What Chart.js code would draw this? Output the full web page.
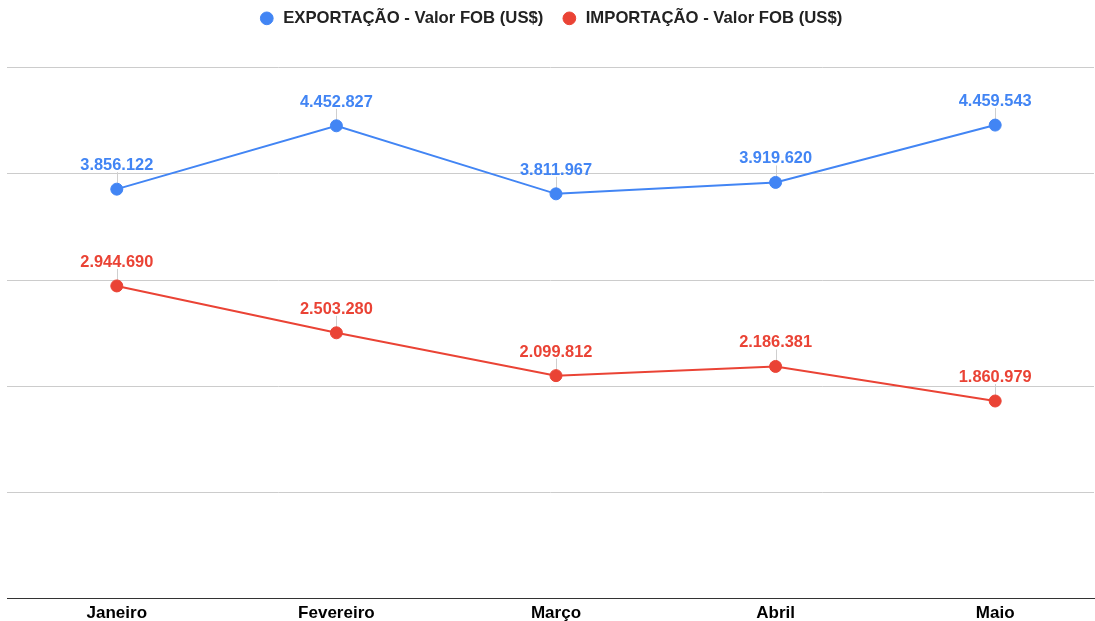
<!DOCTYPE html>
<html>
<head>
<meta charset="utf-8">
<script src="https://cdn.jsdelivr.net/npm/chart.js@4/dist/chart.umd.min.js"></script>
<style>
  html, body { margin: 0; padding: 0; background: #fff; }
  #wrap { width: 1095px; height: 621px; position: relative; }
</style>
</head>
<body>
<div id="wrap"><canvas id="chart"></canvas></div>
<script>
const months = ["Janeiro", "Fevereiro", "Março", "Abril", "Maio"];
const exportValues = [3856122, 4452827, 3811967, 3919620, 4459543];
const importValues = [2944690, 2503280, 2099812, 2186381, 1860979];
const seriesLabels = ["EXPORTAÇÃO - Valor FOB (US$)", "IMPORTAÇÃO - Valor FOB (US$)"];
const yTicks = [0, 1000000, 2000000, 3000000, 4000000, 5000000];

const BLUE = "#4285F4";
const RED = "#EA4335";
const FONT = "'Liberation Sans', Arial, sans-serif";

function brNumber(value) {
  return Math.round(value).toString().replace(/\B(?=(\d{3})+(?!\d))/g, ".");
}

// push the plot area down below the legend
const legendSpacer = {
  id: "legendSpacer",
  beforeInit(chart) {
    const fit = chart.legend.fit;
    chart.legend.fit = function () {
      fit.bind(chart.legend)();
      this.height += 31;
    };
  }
};

const pointLabels = {
  id: "pointLabels",
  beforeDatasetsDraw(chart) {
    const ctx = chart.ctx;
    ctx.save();
    ctx.strokeStyle = "#cfcfcf";
    ctx.lineWidth = 1;
    chart.data.datasets.forEach((ds, i) => {
      chart.getDatasetMeta(i).data.forEach((pt) => {
        const x = Math.round(pt.x) + 0.5;
        ctx.beginPath();
        ctx.moveTo(x, pt.y - 17);
        ctx.lineTo(x, pt.y);
        ctx.stroke();
      });
    });
    ctx.restore();
  },
  afterDatasetsDraw(chart) {
    const ctx = chart.ctx;
    ctx.save();
    ctx.font = "bold 16.4px " + FONT;
    ctx.textAlign = "center";
    ctx.textBaseline = "alphabetic";
    chart.data.datasets.forEach((ds, i) => {
      ctx.fillStyle = ds.borderColor;
      chart.getDatasetMeta(i).data.forEach((pt, j) => {
        ctx.fillText(brNumber(ds.data[j].y), pt.x, pt.y - 19);
      });
    });
    ctx.restore();
  }
};

new Chart(document.getElementById("chart"), {
  type: "line",
  data: {
    datasets: [
      {
        label: seriesLabels[0],
        data: exportValues.map((v, i) => ({ x: i, y: v })),
        borderColor: BLUE,
        backgroundColor: BLUE,
        borderWidth: 2,
        pointRadius: 6,
        pointBorderWidth: 1,
        pointHoverRadius: 6
      },
      {
        label: seriesLabels[1],
        data: importValues.map((v, i) => ({ x: i, y: v })),
        borderColor: RED,
        backgroundColor: RED,
        borderWidth: 2,
        pointRadius: 6,
        pointBorderWidth: 1,
        pointHoverRadius: 6
      }
    ]
  },
  options: {
    responsive: true,
    maintainAspectRatio: false,
    animation: false,
    layout: { autoPadding: false, padding: { top: -8, left: 7, right: 1, bottom: -8 } },
    plugins: {
      legend: {
        labels: {
          usePointStyle: true,
          pointStyle: "circle",
          boxWidth: 16,
          boxHeight: 9,
          padding: 18,
          color: "#222",
          font: { family: FONT, size: 16.7, weight: "bold" }
        }
      },
      tooltip: { enabled: false }
    },
    scales: {
      x: {
        type: "linear",
        min: -0.5,
        max: 4.45,
        afterBuildTicks(scale) {
          scale.ticks = months.map((_, i) => ({ value: i }));
        },
        grid: { display: false, drawTicks: false },
        border: { display: true, color: "#333", width: 1 },
        ticks: {
          padding: 5,
          color: "#000",
          font: { family: FONT, size: 17, weight: "bold" },
          maxRotation: 0,
          autoSkip: false,
          callback(value) { return months[value]; }
        }
      },
      y: {
        min: 0,
        max: 5000000,
        afterBuildTicks(scale) {
          scale.ticks = yTicks.map((v) => ({ value: v }));
        },
        grid: { color: "#cccccc", drawTicks: false },
        border: { display: false },
        ticks: { display: false }
      }
    }
  },
  plugins: [legendSpacer, pointLabels]
});
</script>
</body>
</html>
